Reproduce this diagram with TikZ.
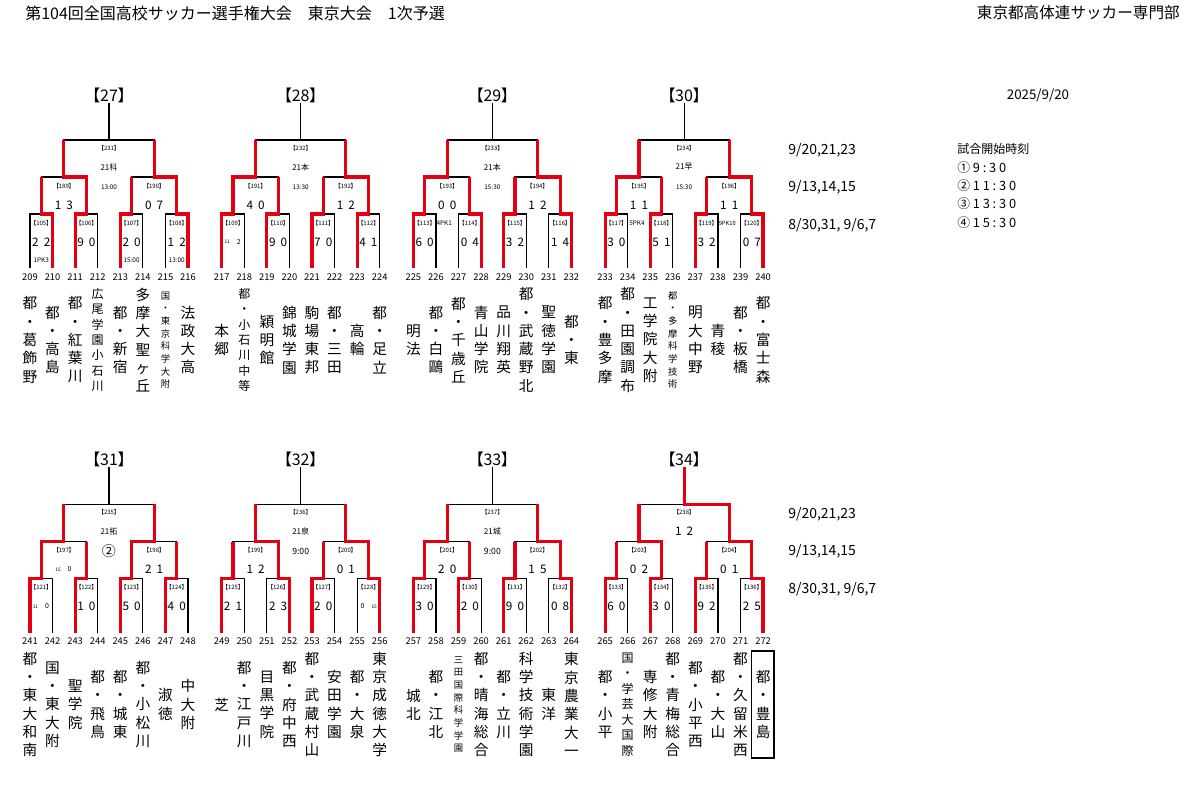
\documentclass[tikz,border=0pt]{standalone}
\usepackage{fontspec}
\setmainfont{Noto Sans CJK JP}
\newfontfamily\pfont[RawFeature=+palt]{Noto Sans CJK JP}
\newfontfamily\spfont[LetterSpace=22]{Noto Sans CJK JP}
\definecolor{winred}{RGB}{228,0,18}
\def\pitch{22.57}
\def\grA{30}\def\grB{221.7}\def\grC{413.4}\def\grD{605.1}
\def\dyB{364.5}
\tikzset{
 xbl/.style={line width=0.9pt, black},
 xrl/.style={line width=2.4pt, winred, line join=miter},
 xttl/.style={font=\pfont\fontsize{12}{12}\selectfont, inner sep=0pt},
 xlab/.style={font=\pfont\fontsize{4.5}{5}\selectfont, inner sep=0pt},
 xmid/.style={font=\fontsize{6}{7}\selectfont, inner sep=0pt},
 xtim/.style={font=\fontsize{4.8}{5}\selectfont, inner sep=0pt},
 xsc/.style={font=\fontsize{8.8}{9}\selectfont, inner sep=0pt},
 xnum/.style={font=\fontsize{7}{7}\selectfont, inner sep=0pt},
 xnm/.style={font=\fontsize{11}{13.7}\selectfont, align=center, inner sep=0pt},
 xnms/.style={font=\fontsize{9}{11.6}\selectfont, align=center, inner sep=0pt},
 xnmt/.style={font=\fontsize{7}{9.5}\selectfont, align=center, inner sep=0pt},
 xdate/.style={font=\fontsize{10.5}{11}\selectfont, inner sep=0pt, anchor=west},
 xtime/.style={font=\spfont\fontsize{9.6}{10}\selectfont, inner sep=0pt, anchor=west},
}
% black bracket lines of one group: #1 x0, #2 dy
\def\bracketlines#1#2{%
 \foreach \j in {0,1,2,3}{
   \draw[xbl] ({#1+\pitch*2*\j},{268+#2}) |- ({#1+\pitch*(2*\j+1)},{214+#2}) -- ({#1+\pitch*(2*\j+1)},{268+#2});
 }
 \foreach \k in {0,1}{
   \draw[xbl] ({#1+\pitch*(4*\k+0.5)},{214+#2}) |- ({#1+\pitch*(4*\k+2.5)},{177+#2}) -- ({#1+\pitch*(4*\k+2.5)},{214+#2});
 }
 \draw[xbl] ({#1+\pitch*1.5},{177+#2}) |- ({#1+\pitch*5.5},{140+#2}) -- ({#1+\pitch*5.5},{177+#2});
 \draw[xbl] ({#1+\pitch*3.5},{140+#2}) -- ({#1+\pitch*3.5},{103+#2});
}
% red winner path: #1 x0, #2 dy, #3 leaf index, #4 rounds won
\def\winpath#1#2#3#4{%
 \pgfmathsetmacro\wx{#1+\pitch*#3}
 \pgfmathsetmacro\wa{#1+\pitch*(2*floor(#3/2)+0.5)}
 \pgfmathsetmacro\wb{#1+\pitch*(4*floor(#3/4)+1.5)}
 \pgfmathsetmacro\wc{#1+\pitch*3.5}
 \ifcase#4\or
   \draw[xrl] (\wx,{268+#2}) |- (\wa,{214+#2}) -- (\wa,{177+#2});
 \or
   \draw[xrl] (\wx,{268+#2}) |- (\wa,{214+#2}) |- (\wb,{177+#2}) -- (\wb,{140+#2});
 \or
   \draw[xrl] (\wx,{268+#2}) |- (\wa,{214+#2}) |- (\wb,{177+#2}) |- (\wc,{140+#2}) -- (\wc,{103+#2});
 \fi}
% first round match: #1 x0, #2 dy, #3 j, #4 number, #5 #6 scores
\def\mone#1#2#3#4#5#6{%
 \node[xlab] (m#4) at ({#1+\pitch*(2*#3+0.5)},{223+#2}) {【#4】};
 \node[xsc] (m#4a) at ({#1+\pitch*(2*#3+0.5)-5.8},{242+#2}) {#5};
 \node[xsc] (m#4b) at ({#1+\pitch*(2*#3+0.5)+5.8},{242+#2}) {#6};}
% second round match: #3 k
\def\mtwo#1#2#3#4#5#6{%
 \node[xlab] (m#4) at ({#1+\pitch*(4*#3+1.5)},{186+#2}) {【#4】};
 \node[xsc] (m#4a) at ({#1+\pitch*(4*#3+1.5)-5.8},{205+#2}) {#5};
 \node[xsc] (m#4b) at ({#1+\pitch*(4*#3+1.5)+5.8},{205+#2}) {#6};}
% final of group
\def\mthree#1#2#3#4#5{%
 \node[xlab] (m#3) at ({#1+\pitch*3.5},{148+#2}) {【#3】};
 \node[xmid] (m#3v) at ({#1+\pitch*3.5},{167+#2}) {#4};
 \node[xtim] (m#3t) at ({#1+\pitch*3.5},{187+#2}) {#5};}
\def\grouptitle#1#2#3{\node[xttl] (g#3) at ({#1+\pitch*3.5},{95+#2}) {【#3】};}
% team: #1 x0, #2 i, #3 dy, #4 number, #5 style, #6 name
\def\team#1#2#3#4#5#6{%
 \node[xnum] (n#4) at ({#1+\pitch*#2},{277+#3}) {#4};
 \node[#5] (t#4) at ({#1+\pitch*#2},{340+#3}) {#6};}
\def\tinyt#1{{\fontsize{3.6}{4}\selectfont #1}}
\def\smallt#1{{\fontsize{5.2}{6}\selectfont #1}}

\begin{document}
\begin{tikzpicture}[x=0.75pt,y=-0.75pt]
\fill[white] (0,0) rectangle (1200,791);
\useasboundingbox (0,0) rectangle (1200,791);

\node[anchor=west, font=\fontsize{12}{12}\selectfont, inner sep=0pt] (title) at (25,13) {第104回全国高校サッカー選手権大会　東京大会　1次予選};
\node[anchor=east, font=\fontsize{11.7}{12}\selectfont, inner sep=0pt] (org) at (1180,13) {東京都高体連サッカー専門部};
\node[font=\fontsize{10}{11}\selectfont, inner sep=0pt] (date) at (1038,95) {2025/9/20};

\node[xdate] (dA1) at (788,150) {9/20,21,23};
\node[xdate] (dA2) at (788,187) {9/13,14,15};
\node[xdate] (dA3) at (788,225) {8/30,31, 9/6,7};
\node[xdate] (dB1) at (788,514) {9/20,21,23};
\node[xdate] (dB2) at (788,551) {9/13,14,15};
\node[xdate] (dB3) at (788,589) {8/30,31, 9/6,7};

\node[anchor=west, font=\fontsize{9}{10}\selectfont, inner sep=0pt] (sched) at (957,149) {試合開始時刻};
\node[xtime] (s1) at (957,168) {①9:30};
\node[xtime] (s2) at (957,186) {②11:30};
\node[xtime] (s3) at (957,204) {③13:30};
\node[xtime] (s4) at (957,223) {④15:30};

% bracket lines
\bracketlines{\grA}{0}
\bracketlines{\grB}{0}
\bracketlines{\grC}{0}
\bracketlines{\grD}{0}
\bracketlines{\grA}{\dyB}
\bracketlines{\grB}{\dyB}
\bracketlines{\grC}{\dyB}
\bracketlines{\grD}{\dyB}

% winners
\winpath{\grA}{0}{1}{1}\winpath{\grA}{0}{2}{2}\winpath{\grA}{0}{4}{1}\winpath{\grA}{0}{7}{2}
\winpath{\grB}{0}{0}{2}\winpath{\grB}{0}{2}{1}\winpath{\grB}{0}{4}{1}\winpath{\grB}{0}{6}{2}
\winpath{\grC}{0}{0}{2}\winpath{\grC}{0}{3}{1}\winpath{\grC}{0}{4}{1}\winpath{\grC}{0}{7}{2}
\winpath{\grD}{0}{0}{2}\winpath{\grD}{0}{2}{1}\winpath{\grD}{0}{4}{1}\winpath{\grD}{0}{7}{2}
\winpath{\grA}{\dyB}{0}{2}\winpath{\grA}{\dyB}{2}{1}\winpath{\grA}{\dyB}{4}{2}\winpath{\grA}{\dyB}{6}{1}
\winpath{\grB}{\dyB}{0}{1}\winpath{\grB}{\dyB}{3}{2}\winpath{\grB}{\dyB}{4}{1}\winpath{\grB}{\dyB}{7}{2}
\winpath{\grC}{\dyB}{0}{2}\winpath{\grC}{\dyB}{2}{1}\winpath{\grC}{\dyB}{4}{1}\winpath{\grC}{\dyB}{7}{2}
\winpath{\grD}{\dyB}{0}{1}\winpath{\grD}{\dyB}{2}{2}\winpath{\grD}{\dyB}{4}{1}\winpath{\grD}{\dyB}{7}{3}

% group titles
\grouptitle{\grA}{0}{27}\grouptitle{\grB}{0}{28}\grouptitle{\grC}{0}{29}\grouptitle{\grD}{0}{30}
\grouptitle{\grA}{\dyB}{31}\grouptitle{\grB}{\dyB}{32}\grouptitle{\grC}{\dyB}{33}\grouptitle{\grD}{\dyB}{34}

% finals
\mthree{\grA}{0}{231}{21科}{13:00}
\mthree{\grB}{0}{232}{21本}{13:30}
\mthree{\grC}{0}{233}{21本}{15:30}
\mthree{\grD}{0}{234}{21早}{15:30}
\mthree{\grA}{\dyB}{235}{21拓}{\fontsize{10.5}{11}\selectfont ②}
\mthree{\grB}{\dyB}{236}{21泉}{\fontsize{6.5}{7}\selectfont 9:00}
\mthree{\grC}{\dyB}{237}{21城}{\fontsize{6.5}{7}\selectfont 9:00}
\node[xlab] (m238) at ({\grD+\pitch*3.5},{148+\dyB}) {【238】};
\node[xsc] (m238a) at ({\grD+\pitch*3.5-5.8},{167+\dyB}) {1};
\node[xsc] (m238b) at ({\grD+\pitch*3.5+5.8},{167+\dyB}) {2};

% second round
\mtwo{\grA}{0}{0}{189}{1}{3}\mtwo{\grA}{0}{1}{190}{0}{7}
\mtwo{\grB}{0}{0}{191}{4}{0}\mtwo{\grB}{0}{1}{192}{1}{2}
\mtwo{\grC}{0}{0}{193}{0}{0}\mtwo{\grC}{0}{1}{194}{1}{2}
\mtwo{\grD}{0}{0}{195}{1}{1}\mtwo{\grD}{0}{1}{196}{1}{1}
\mtwo{\grA}{\dyB}{0}{197}{\tinyt{15}}{\smallt{0}}\mtwo{\grA}{\dyB}{1}{198}{2}{1}
\mtwo{\grB}{\dyB}{0}{199}{1}{2}\mtwo{\grB}{\dyB}{1}{200}{0}{1}
\mtwo{\grC}{\dyB}{0}{201}{2}{0}\mtwo{\grC}{\dyB}{1}{202}{1}{5}
\mtwo{\grD}{\dyB}{0}{203}{0}{2}\mtwo{\grD}{\dyB}{1}{204}{0}{1}

% first round
\mone{\grA}{0}{0}{105}{2}{2}\mone{\grA}{0}{1}{106}{9}{0}\mone{\grA}{0}{2}{107}{2}{0}\mone{\grA}{0}{3}{108}{1}{2}
\mone{\grB}{0}{0}{109}{\tinyt{11}}{\smallt{2}}\mone{\grB}{0}{1}{110}{9}{0}\mone{\grB}{0}{2}{111}{7}{0}\mone{\grB}{0}{3}{112}{4}{1}
\mone{\grC}{0}{0}{113}{6}{0}\mone{\grC}{0}{1}{114}{0}{4}\mone{\grC}{0}{2}{115}{3}{2}\mone{\grC}{0}{3}{116}{1}{4}
\mone{\grD}{0}{0}{117}{3}{0}\mone{\grD}{0}{1}{118}{5}{1}\mone{\grD}{0}{2}{119}{3}{2}\mone{\grD}{0}{3}{120}{0}{7}
\mone{\grA}{\dyB}{0}{121}{\tinyt{11}}{\smallt{0}}\mone{\grA}{\dyB}{1}{122}{1}{0}\mone{\grA}{\dyB}{2}{123}{5}{0}\mone{\grA}{\dyB}{3}{124}{4}{0}
\mone{\grB}{\dyB}{0}{125}{2}{1}\mone{\grB}{\dyB}{1}{126}{2}{3}\mone{\grB}{\dyB}{2}{127}{2}{0}\mone{\grB}{\dyB}{3}{128}{\smallt{0}}{\tinyt{15}}
\mone{\grC}{\dyB}{0}{129}{3}{0}\mone{\grC}{\dyB}{1}{130}{2}{0}\mone{\grC}{\dyB}{2}{131}{9}{0}\mone{\grC}{\dyB}{3}{132}{0}{8}
\mone{\grD}{\dyB}{0}{133}{6}{0}\mone{\grD}{\dyB}{1}{134}{3}{0}\mone{\grD}{\dyB}{2}{135}{9}{2}\mone{\grD}{\dyB}{3}{136}{2}{5}

% notes
\node[xtim] (x105) at ({\grA+\pitch*0.5},260) {1PK3};
\node[xtim] (x107) at ({\grA+\pitch*4.5},260) {15:00};
\node[xtim] (x108) at ({\grA+\pitch*6.5},260) {13:00};
\node[xtim] (x193) at ({\grC+\pitch*1.5-3},223) {4PK1};
\node[xtim] (x195) at ({\grD+\pitch*1.5-2},223) {5PK4};
\node[xtim, font=\fontsize{4.3}{5}\selectfont] (x196) at ({\grD+\pitch*5.5-2},223) {9PK10};

% teams, top row
\team{\grA}{0}{0}{209}{xnm}{都\\・\\葛\\飾\\野}
\team{\grA}{1}{0}{210}{xnm}{都\\・\\高\\島}
\team{\grA}{2}{0}{211}{xnm}{都\\・\\紅\\葉\\川}
\team{\grA}{3}{0}{212}{xnms}{広\\尾\\学\\園\\小\\石\\川}
\team{\grA}{4}{0}{213}{xnm}{都\\・\\新\\宿}
\team{\grA}{5}{0}{214}{xnm}{多\\摩\\大\\聖\\ヶ\\丘}
\team{\grA}{6}{0}{215}{xnmt}{国\\・\\東\\京\\科\\学\\大\\附}
\team{\grA}{7}{0}{216}{xnm}{法\\政\\大\\高}
\team{\grB}{0}{0}{217}{xnm}{本\\郷}
\team{\grB}{1}{0}{218}{xnms}{都\\・\\小\\石\\川\\中\\等}
\team{\grB}{2}{0}{219}{xnm}{穎\\明\\館}
\team{\grB}{3}{0}{220}{xnm}{錦\\城\\学\\園}
\team{\grB}{4}{0}{221}{xnm}{駒\\場\\東\\邦}
\team{\grB}{5}{0}{222}{xnm}{都\\・\\三\\田}
\team{\grB}{6}{0}{223}{xnm}{高\\輪}
\team{\grB}{7}{0}{224}{xnm}{都\\・\\足\\立}
\team{\grC}{0}{0}{225}{xnm}{明\\法}
\team{\grC}{1}{0}{226}{xnm}{都\\・\\白\\鷗}
\team{\grC}{2}{0}{227}{xnm}{都\\・\\千\\歳\\丘}
\team{\grC}{3}{0}{228}{xnm}{青\\山\\学\\院}
\team{\grC}{4}{0}{229}{xnm}{品\\川\\翔\\英}
\team{\grC}{5}{0}{230}{xnm}{都\\・\\武\\蔵\\野\\北}
\team{\grC}{6}{0}{231}{xnm}{聖\\徳\\学\\園}
\team{\grC}{7}{0}{232}{xnm}{都\\・\\東}
\team{\grD}{0}{0}{233}{xnm}{都\\・\\豊\\多\\摩}
\team{\grD}{1}{0}{234}{xnm}{都\\・\\田\\園\\調\\布}
\team{\grD}{2}{0}{235}{xnm}{工\\学\\院\\大\\附}
\team{\grD}{3}{0}{236}{xnmt}{都\\・\\多\\摩\\科\\学\\技\\術}
\team{\grD}{4}{0}{237}{xnm}{明\\大\\中\\野}
\team{\grD}{5}{0}{238}{xnm}{青\\稜}
\team{\grD}{6}{0}{239}{xnm}{都\\・\\板\\橋}
\team{\grD}{7}{0}{240}{xnm}{都\\・\\富\\士\\森}
% teams, bottom row
\team{\grA}{0}{\dyB}{241}{xnm}{都\\・\\東\\大\\和\\南}
\team{\grA}{1}{\dyB}{242}{xnm}{国\\・\\東\\大\\附}
\team{\grA}{2}{\dyB}{243}{xnm}{聖\\学\\院}
\team{\grA}{3}{\dyB}{244}{xnm}{都\\・\\飛\\鳥}
\team{\grA}{4}{\dyB}{245}{xnm}{都\\・\\城\\東}
\team{\grA}{5}{\dyB}{246}{xnm}{都\\・\\小\\松\\川}
\team{\grA}{6}{\dyB}{247}{xnm}{淑\\徳}
\team{\grA}{7}{\dyB}{248}{xnm}{中\\大\\附}
\team{\grB}{0}{\dyB}{249}{xnm}{芝}
\team{\grB}{1}{\dyB}{250}{xnm}{都\\・\\江\\戸\\川}
\team{\grB}{2}{\dyB}{251}{xnm}{目\\黒\\学\\院}
\team{\grB}{3}{\dyB}{252}{xnm}{都\\・\\府\\中\\西}
\team{\grB}{4}{\dyB}{253}{xnm}{都\\・\\武\\蔵\\村\\山}
\team{\grB}{5}{\dyB}{254}{xnm}{安\\田\\学\\園}
\team{\grB}{6}{\dyB}{255}{xnm}{都\\・\\大\\泉}
\team{\grB}{7}{\dyB}{256}{xnm}{東\\京\\成\\徳\\大\\学}
\team{\grC}{0}{\dyB}{257}{xnm}{城\\北}
\team{\grC}{1}{\dyB}{258}{xnm}{都\\・\\江\\北}
\team{\grC}{2}{\dyB}{259}{xnmt}{三\\田\\国\\際\\科\\学\\学\\園}
\team{\grC}{3}{\dyB}{260}{xnm}{都\\・\\晴\\海\\総\\合}
\team{\grC}{4}{\dyB}{261}{xnm}{都\\・\\立\\川}
\team{\grC}{5}{\dyB}{262}{xnm}{科\\学\\技\\術\\学\\園}
\team{\grC}{6}{\dyB}{263}{xnm}{東\\洋}
\team{\grC}{7}{\dyB}{264}{xnm}{東\\京\\農\\業\\大\\一}
\team{\grD}{0}{\dyB}{265}{xnm}{都\\・\\小\\平}
\team{\grD}{1}{\dyB}{266}{xnms}{国\\・\\学\\芸\\大\\国\\際}
\team{\grD}{2}{\dyB}{267}{xnm}{専\\修\\大\\附}
\team{\grD}{3}{\dyB}{268}{xnm}{都\\・\\青\\梅\\総\\合}
\team{\grD}{4}{\dyB}{269}{xnm}{都\\・\\小\\平\\西}
\team{\grD}{5}{\dyB}{270}{xnm}{都\\・\\大\\山}
\team{\grD}{6}{\dyB}{271}{xnm}{都\\・\\久\\留\\米\\西}
\team{\grD}{7}{\dyB}{272}{xnm}{都\\・\\豊\\島}
\draw[line width=1.1pt] ([shift={(-11.5,-53.5)}]t272.center) rectangle ([shift={(11,53.5)}]t272.center);
\end{tikzpicture}
\end{document}
